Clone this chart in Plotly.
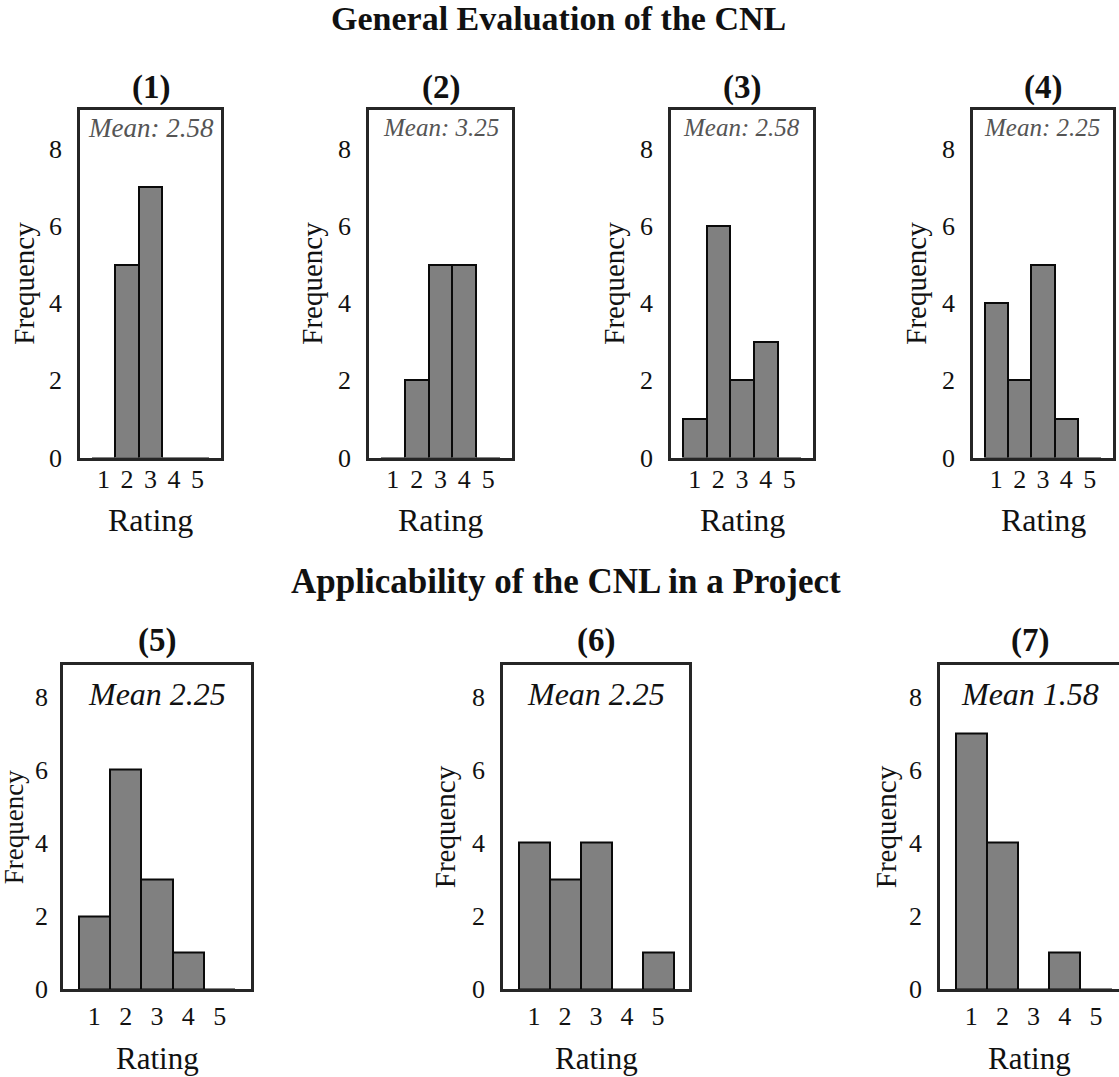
import plotly.graph_objects as go

# ---------------- data ----------------
ratings = [1, 2, 3, 4, 5]
freq_1 = [0, 5, 7, 0, 0]
freq_2 = [0, 2, 5, 5, 0]
freq_3 = [1, 6, 2, 3, 0]
freq_4 = [4, 2, 5, 1, 0]
freq_5 = [2, 6, 3, 1, 0]
freq_6 = [4, 3, 4, 0, 1]
freq_7 = [7, 4, 0, 1, 0]
panel_titles = ["(1)", "(2)", "(3)", "(4)", "(5)", "(6)", "(7)"]
mean_labels = ["Mean: 2.58", "Mean: 3.25", "Mean: 2.58", "Mean: 2.25",
               "Mean 2.25", "Mean 2.25", "Mean 1.58"]
row_titles = ["General Evaluation of the CNL", "Applicability of the CNL in a Project"]
y_ticks = [0, 2, 4, 6, 8]

series = [freq_1, freq_2, freq_3, freq_4, freq_5, freq_6, freq_7]

# ---------------- layout geometry ----------------
REF_W, REF_H = 1119, 1077
FW, FH = 1119, 1091           # rendered page height (captured scaled to 1077)
K = FH / REF_H                 # vertical pixel factor
FONT = "Liberation Serif"
TXT = "#111111"
FRAME = "#262626"

# panel boxes in reference pixels
px_x = [(80, 221), (369, 512), (671, 813), (973, 1113),
        (63, 251), (503, 689), (940, 1119)]
top_y = (110, 458)
bot_y = (666, 990)
x_ranges = [[0, 6]] * 6 + [[0, (1119 - 940) / 31.2]]
freq_shift = [-56, -57, -57, -57, -49, -58, -54]
freq_size = [29, 29, 29, 29, 27, 29, 29]
ytick_standoff = [10, 10, 10, 10, 7, 10, 10]


def fx(p):
    return p / REF_W


def fy(p):
    return 1 - p / REF_H


def sy(v):
    return round(v * K)


fig = go.Figure()
layout = dict(
    width=FW, height=FH,
    margin=dict(l=0, r=0, t=0, b=0),
    plot_bgcolor="white", paper_bgcolor="white",
    showlegend=False, bargap=0,
    font=dict(family=FONT, color=TXT),
)
annotations = []

for i, vals in enumerate(series):
    k = i + 1
    top = i < 4
    yy = top_y if top else bot_y
    xa = "x" if k == 1 else f"x{k}"
    ya = "y" if k == 1 else f"y{k}"
    fig.add_trace(go.Bar(
        x=ratings, y=vals, xaxis=xa, yaxis=ya, width=1,
        marker=dict(color="#808080", line=dict(color="#0a0a0a", width=2)),
    ))
    x0, x1 = px_x[i]
    layout["xaxis" if k == 1 else f"xaxis{k}"] = dict(
        domain=[fx(x0), min(1.0, fx(x1))], anchor=ya, range=x_ranges[i],
        tickmode="array", tickvals=ratings, ticks="", showgrid=False,
        zeroline=False, showline=True, linecolor=FRAME, linewidth=2.5,
        mirror=True, tickfont=dict(size=26, color=TXT),
        ticklabelstandoff=-4 if top else 2,
    )
    layout["yaxis" if k == 1 else f"yaxis{k}"] = dict(
        domain=[fy(yy[1]), fy(yy[0])], anchor=xa,
        range=[0, 9.0] if top else [0, 8.85],
        tickmode="array", tickvals=y_ticks, ticks="", showgrid=False,
        zeroline=False, showline=True, linecolor=FRAME, linewidth=2.5,
        mirror=(k != 7), tickfont=dict(size=26, color=TXT),
        ticklabelstandoff=ytick_standoff[i],
    )
    xd = f"{xa} domain"
    yd = f"{ya} domain"
    # panel title
    annotations.append(dict(
        text=f"<b>{panel_titles[i]}</b>", xref=xd, yref=yd, x=0.5, y=1,
        xanchor="center", yanchor="middle", yshift=sy(22 if top else 25),
        showarrow=False, font=dict(size=33, color=TXT),
    ))
    # mean label
    if top:
        annotations.append(dict(
            text=f"<i>{mean_labels[i]}</i>", xref=xd, yref=yd, x=1, y=1,
            xanchor="right", yanchor="middle", xshift=-5 if k == 1 else -11,
            yshift=sy(-18), showarrow=False,
            font=dict(size=27 if k == 1 else 25, color="#555555"),
        ))
    else:
        annotations.append(dict(
            text=f"<i>{mean_labels[i]}</i>", xref=xd, yref=yd, x=0.5, y=1,
            xanchor="center", yanchor="middle", yshift=sy(-29), showarrow=False,
            font=dict(size=32, color=TXT),
        ))
    # axis titles
    annotations.append(dict(
        text="Frequency", xref=xd, yref=yd, x=0, y=0.5, xanchor="center",
        yanchor="middle", xshift=freq_shift[i], textangle=-90, showarrow=False,
        font=dict(size=freq_size[i], color=TXT),
    ))
    annotations.append(dict(
        text="Rating", xref=xd, yref=yd, x=0.5, y=0, xanchor="center",
        yanchor="middle", yshift=sy(-61 if top else -68), showarrow=False,
        font=dict(size=32 if top else 31, color=TXT),
    ))

annotations.append(dict(
    text=f"<b>{row_titles[0]}</b>", xref="paper", yref="paper", x=fx(558),
    y=fy(19), xanchor="center", yanchor="middle", showarrow=False,
    font=dict(size=34, color=TXT),
))
annotations.append(dict(
    text=f"<b>{row_titles[1]}</b>", xref="paper", yref="paper", x=fx(566),
    y=fy(582), xanchor="center", yanchor="middle", showarrow=False,
    font=dict(size=35, color=TXT),
))
layout["annotations"] = annotations
fig.update_layout(**layout)

fix_page = (
    "document.documentElement.style.margin='0';"
    "document.body.style.margin='0';"
    "document.documentElement.style.overflow='hidden';"
    "document.body.style.overflow='hidden';"
)

fig.write_html("out.html", config={"displayModeBar": False}, post_script=fix_page)
